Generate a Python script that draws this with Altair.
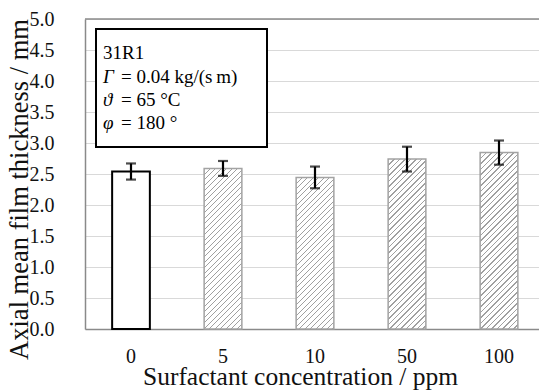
import altair as alt
import pandas as pd

# Film thickness measurements per surfactant concentration
concentrations = ["0", "5", "10", "50", "100"]
thickness_mm = [2.54, 2.59, 2.445, 2.74, 2.845]
error_mm = [0.13, 0.12, 0.175, 0.20, 0.195]

# Operating conditions shown in the info box
info_symbols = ["", "\u0393", "\u03d1", "\u03c6"]
info_values = ["31R1", "= 0.04 kg/(s\u2009m)", "= 65 \u00b0C", "= 180 \u00b0"]

df = pd.DataFrame({
    "conc": concentrations,
    "thick": thickness_mm,
    "err": error_mm,
})
df["lo"] = df["thick"] - df["err"]
df["hi"] = df["thick"] + df["err"]

FONT = "Liberation Serif"
PLOT_W, PLOT_H = 454, 310
STEP = 92
Y_MAX = 5.0
PX_PER_UNIT = PLOT_H / Y_MAX
PAD_INNER = 0.59
BAR_W = STEP * (1 - PAD_INNER)

x_enc = alt.X(
    "conc:N",
    sort=concentrations,
    scale=alt.Scale(range=[0, STEP * len(concentrations)],
                    paddingInner=PAD_INNER, paddingOuter=PAD_INNER / 2),
    axis=alt.Axis(
        title="Surfactant concentration / ppm",
        labelAngle=0, ticks=False, tickSize=0, labelPadding=17,
        labelFont=FONT, labelFontSize=20, labelColor="#111111",
        titleFont=FONT, titleFontSize=25.5, titleFontWeight="normal", titleColor="#111111",
        titleX=215, titleY=55, titleAlign="center", titleBaseline="alphabetic",
        domainColor="#8a8a8a", domainWidth=1.5, grid=False,
    ),
)
y_scale = alt.Scale(domain=[0, Y_MAX], nice=False)
y_axis = alt.Axis(
    title="Axial mean film thickness / mm",
    values=[i * 0.5 for i in range(11)], format=".1f",
    ticks=False, tickSize=0, labelPadding=31, labelAlign="right",
    labelBaseline="middle", labelOverlap=False,
    labelFont=FONT, labelFontSize=20, labelColor="#111111",
    titleFont=FONT, titleFontSize=26.5, titleFontWeight="normal", titleColor="#111111",
    titleAngle=-90, titleX=-58, titleY=170, titleAlign="center", titleBaseline="alphabetic",
    domainColor="#8a8a8a", domainWidth=1.5,
    grid=True, gridColor="#d9d9d9", gridWidth=1.2,
)

base = alt.Chart(df)


def hatch_fill(value):
    """Diagonal hatching built from a hard-stop linear gradient."""
    h = value * PX_PER_UNIT
    w = BAR_W
    r = h / w
    a = (1 + r) / (1 + r * r)
    span = w + h
    period = 5.5 / span
    line = 1.3 / span
    stops = []
    t = 0.0
    while t < 1.0:
        stops.append({"offset": t, "color": "#a0a0a0"})
        stops.append({"offset": min(t + line, 1.0), "color": "#a0a0a0"})
        stops.append({"offset": min(t + line, 1.0), "color": "#ffffff"})
        stops.append({"offset": min(t + period, 1.0), "color": "#ffffff"})
        t += period
    return {"gradient": "linear", "x1": 0, "y1": 0, "x2": a, "y2": a * r, "stops": stops}


layers = []

# Reference bar (no surfactant): open bar with black outline
layers.append(
    base.transform_filter(alt.datum.conc == concentrations[0])
    .mark_bar(fill="white", stroke="black", strokeWidth=2)
    .encode(x=x_enc, y=alt.Y("thick:Q", scale=y_scale, axis=y_axis))
)

# Surfactant bars: hatched
for c, v in zip(concentrations[1:], thickness_mm[1:]):
    layers.append(
        base.transform_filter(alt.datum.conc == c)
        .mark_bar(fill=hatch_fill(v), stroke="#a3a3a3", strokeWidth=1.5)
        .encode(x=x_enc, y=alt.Y("thick:Q", scale=y_scale, axis=y_axis))
    )

# Error bars
layers.append(
    base.mark_rule(color="black", strokeWidth=2.2)
    .encode(x=x_enc, y=alt.Y("lo:Q", scale=y_scale, axis=y_axis), y2="hi:Q")
)
for fld in ["lo", "hi"]:
    layers.append(
        base.mark_tick(color="black", thickness=2.2, size=10)
        .encode(x=x_enc, y=alt.Y(f"{fld}:Q", scale=y_scale, axis=y_axis))
    )

# Top frame line
layers.append(
    alt.Chart(pd.DataFrame({"top": [Y_MAX]}))
    .mark_rule(color="#8a8a8a", strokeWidth=1.5)
    .encode(y=alt.Y("top:Q", scale=y_scale, axis=y_axis), x=alt.value(0), x2=alt.value(PLOT_W))
)

# Info box
box_df = pd.DataFrame({"k": [0]})
layers.append(
    alt.Chart(box_df)
    .mark_rect(fill="white", stroke="black", strokeWidth=2)
    .encode(x=alt.value(11), x2=alt.value(182), y=alt.value(10), y2=alt.value(128))
)
line_y = [40, 64, 87, 110]
for sym, val, yy in zip(info_symbols, info_values, line_y):
    if sym:
        layers.append(
            alt.Chart(pd.DataFrame({"t": [sym]}))
            .mark_text(font=FONT, fontSize=19, fontStyle="italic", align="left",
                       baseline="alphabetic", color="black")
            .encode(text="t:N", x=alt.value(18), y=alt.value(yy))
        )
        xx = 36
    else:
        xx = 18
    layers.append(
        alt.Chart(pd.DataFrame({"t": [val]}))
        .mark_text(font=FONT, fontSize=19, align="left", baseline="alphabetic", color="black")
        .encode(text="t:N", x=alt.value(xx), y=alt.value(yy))
    )

chart = (
    alt.layer(*layers)
    .properties(
        width=PLOT_W, height=PLOT_H,
        autosize=alt.AutoSizeParams(type="none"),
        padding={"left": 85, "top": 19, "right": 0, "bottom": 61},
        background="white",
    )
    .configure_view(stroke=None)
)

chart.save("out.html", embed_options={"renderer": "svg", "actions": False})
